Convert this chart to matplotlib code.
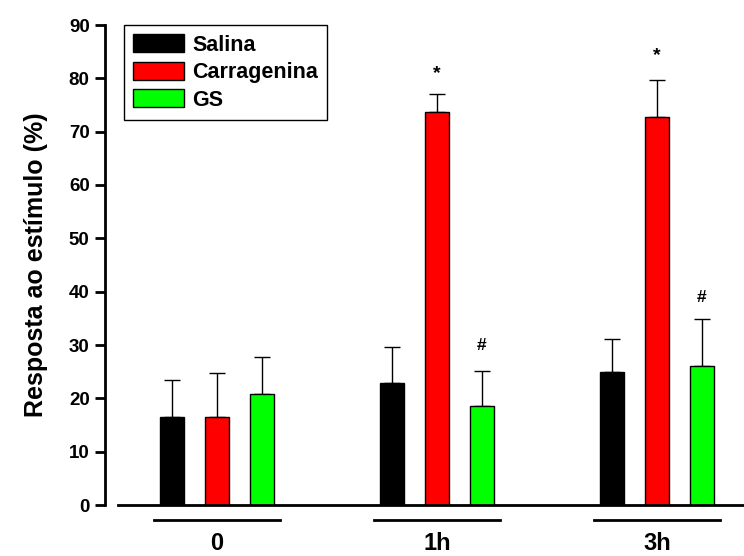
import numpy as np
import matplotlib
matplotlib.use('Agg')
import matplotlib.pyplot as plt
from matplotlib.patches import Patch
from matplotlib.lines import Line2D

plt.rcParams['font.family'] = ['Liberation Sans', 'DejaVu Sans']
plt.rcParams['font.weight'] = 'bold'

# Data
groups = ['0', '1h', '3h']
series = ['Salina', 'Carragenina', 'GS']
colors = ['#000000', '#ff0000', '#00ff00']
salina = [16.5, 22.8, 24.9]
salina_err = [7.0, 6.9, 6.2]
carragenina = [16.5, 73.7, 72.7]
carragenina_err = [8.3, 3.3, 7.0]
gs = [20.8, 18.5, 26.0]
gs_err = [6.9, 6.6, 8.8]
# significance marks: (group index, series index, y, text)
marks = [(1, 1, 80.9, '*'), (2, 1, 84.2, '*'), (1, 2, 30.0, '#'), (2, 2, 38.9, '#')]

values = [salina, carragenina, gs]
errors = [salina_err, carragenina_err, gs_err]

fig = plt.figure(figsize=(7.44, 5.56), dpi=100)
ax = fig.add_axes([118 / 744, 51 / 556, 626 / 744, 480 / 556])

x = np.arange(len(groups))
offset = 0.2045
width = 0.111
for i, (vals, errs, c) in enumerate(zip(values, errors, colors)):
    pos = x + (i - 1) * offset
    ax.bar(pos, vals, width, color=c, edgecolor='black', linewidth=1.0, zorder=2)
    ax.errorbar(pos, vals, yerr=[np.zeros(len(errs)), errs], fmt='none',
                ecolor='black', elinewidth=1.0, capsize=6, capthick=1.0, zorder=1)

for g, s, y, t in marks:
    ax.text(x[g] + (s - 1) * offset, y, t, ha='center', va='center',
            fontsize=14 if t == '*' else 12.5, fontweight='bold')

ax.set_xlim(-0.45, 2.3955)
ax.set_ylim(0, 90)
ax.set_yticks(np.arange(0, 91, 10))
ax.set_xticks([])
ax.spines['top'].set_visible(False)
ax.spines['right'].set_visible(False)
ax.spines['left'].set_position(('outward', 9.4))
ax.spines['left'].set_linewidth(2)
ax.spines['bottom'].set_linewidth(2)
ax.tick_params(axis='y', direction='out', length=7, width=2, labelsize=13.5, pad=4)
for lab in ax.get_yticklabels():
    lab.set_fontweight('bold')
ax.set_ylabel('Resposta ao estímulo (%)', fontsize=18, fontweight='bold', labelpad=15)

# group underlines and labels
for i, g in enumerate(groups):
    ax.add_line(Line2D([x[i] - 0.285, x[i] + 0.285], [-2.8, -2.8], color='black',
                       linewidth=2, clip_on=False))
    ax.text(x[i], -7.2, g, ha='center', va='center', fontsize=17, fontweight='bold')

handles = [Patch(facecolor=c, edgecolor='black', linewidth=1.0) for c in colors]
leg = ax.legend(handles, series, loc='upper left', bbox_to_anchor=(0.0096, 1.0),
                borderaxespad=0, fancybox=False, edgecolor='black', framealpha=1,
                prop={'size': 15.5, 'weight': 'bold'}, handlelength=2.35,
                handleheight=0.92, labelspacing=0.28, handletextpad=0.4,
                borderpad=0.42)
leg.get_frame().set_linewidth(1.0)

fig.savefig('out.png', dpi=100)
